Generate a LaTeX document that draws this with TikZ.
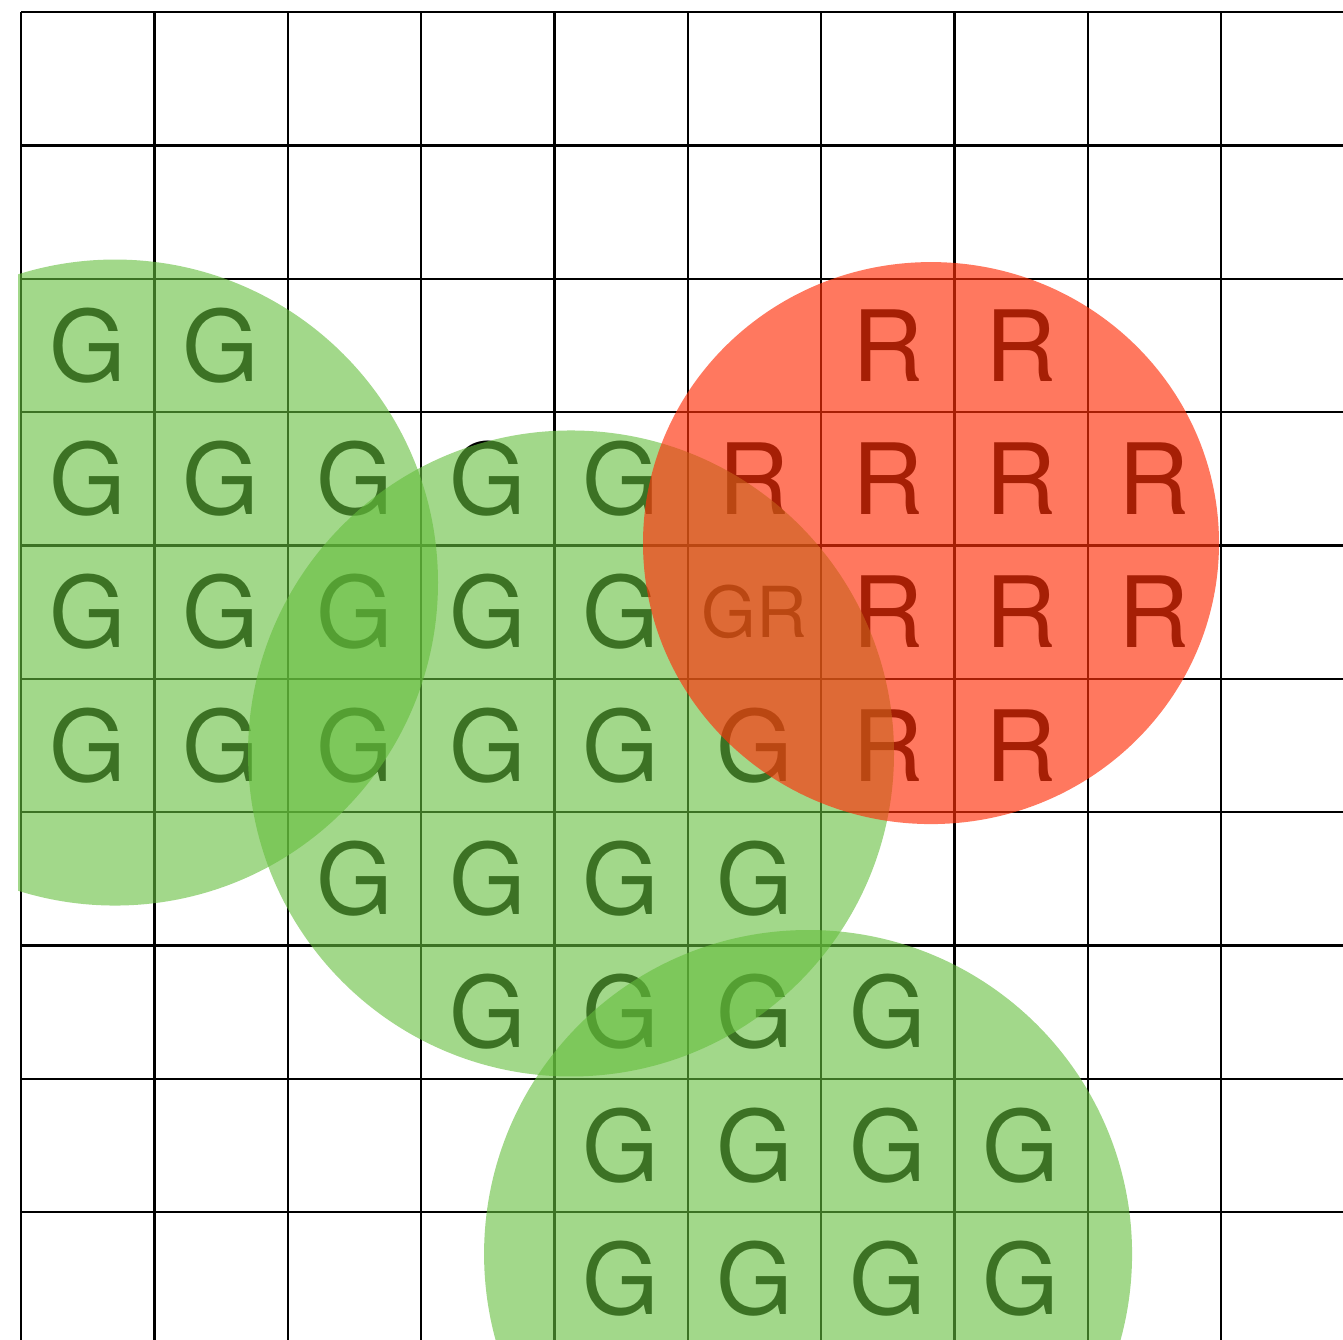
\documentclass[tikz,border=0pt]{standalone}
\usepackage{fontspec}
\setmainfont{TeX Gyre Heros}
\usetikzlibrary{positioning}
\definecolor{blobgreen}{RGB}{100,190,60}
\definecolor{blobred}{RGB}{255,48,9}

\begin{document}
\begin{tikzpicture}[
    letter/.style={font=\fontsize{21}{21}\selectfont, inner sep=0pt, anchor=center},
    tiny/.style={letter, font=\fontsize{15}{15}\selectfont},
    gblob/.style={fill=blobgreen, fill opacity=0.6},
    rblob/.style={fill=blobred, fill opacity=0.65}
]
\useasboundingbox (-0.1575,0.09) rectangle (9.915,-9.9525);

% grid
\begin{scope}
\clip (-0.1575,0.09) rectangle (9.915,-9.9525);
\draw[line width=0.5pt] (0,0) grid (10,-10);
\end{scope}

% cell labels (column/row/text)
\foreach \c/\r/\t in {0/2/G, 1/2/G, 6/2/R, 7/2/R,
    0/3/G, 1/3/G, 2/3/G, 3/3/G, 4/3/G, 5/3/R, 6/3/R, 7/3/R, 8/3/R,
    0/4/G, 1/4/G, 2/4/G, 3/4/G, 4/4/G, 6/4/R, 7/4/R, 8/4/R,
    0/5/G, 1/5/G, 2/5/G, 3/5/G, 4/5/G, 5/5/G, 6/5/R, 7/5/R,
    2/6/G, 3/6/G, 4/6/G, 5/6/G,
    3/7/G, 4/7/G, 5/7/G, 6/7/G,
    4/8/G, 5/8/G, 6/8/G, 7/8/G,
    4/9/G, 5/9/G, 6/9/G, 7/9/G}
  \node[letter] (m-\c-\r) at (\c+0.5,-\r-0.5) {\t};
\node[tiny] (m-5-4) at (5.5,-4.5) {GR};

% regions
\begin{scope}
\clip (-0.0225,0.09) rectangle (9.915,-9.9525);
\fill[gblob] (0.705,-4.279) circle (2.4225);
\fill[gblob] (4.125,-5.561) circle (2.4225);
\fill[gblob] (5.903,-9.315) circle (2.43);
\fill[rblob] (6.825,-3.983) ellipse (2.16 and 2.1075);
\end{scope}
\end{tikzpicture}
\end{document}
